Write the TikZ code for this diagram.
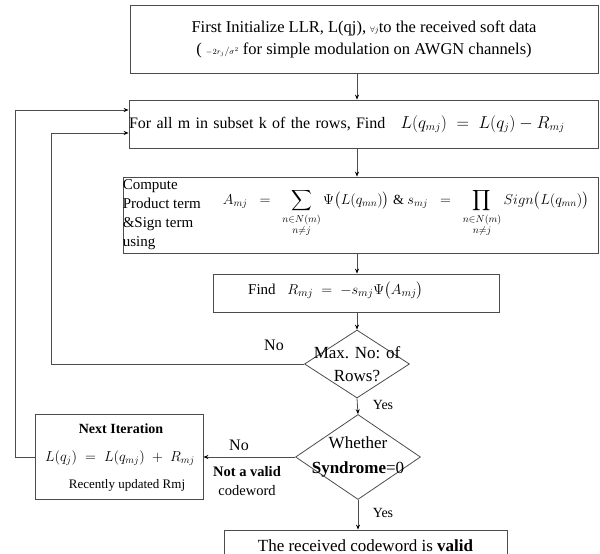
\documentclass[tikz,border=0pt]{standalone}
\usepackage{amsmath}
\usepackage{fontspec}
\setmainfont{Liberation Serif}
\usetikzlibrary{arrows.meta,shapes.geometric}

\begin{document}
\begin{tikzpicture}[x=1pt,y=-1pt,font=\fontsize{16}{22}\selectfont]
\useasboundingbox (0,0) rectangle (600,554);
\begin{scope}[every node/.style={rectangle,draw=black!70,thick,inner sep=0pt}]
    \node[minimum width=468,minimum height=68,align=center,font=\fontsize{16.5}{22}\selectfont] (A) at (364,39)
        {First Initialize LLR, L(qj), {\footnotesize$\forall j$}to the received soft data\\
         ( {\footnotesize$-2r_j\big/\sigma^2$} for simple modulation on AWGN channels)};
    \node[text width=469,minimum height=48,align=left] (B) at (363.5,124)
        {For all m in subset k of the rows, Find \; $L(q_{mj}) \;=\; L(q_j) - R_{mj}$};
    \node[minimum width=475,minimum height=76] (C) at (360.5,215) {};
    \node[minimum width=286,minimum height=38] (D) at (356,293) {};
    \node[minimum width=168,minimum height=85] (G) at (119,456.5) {};
    \node[minimum width=283,minimum height=32,font=\fontsize{17}{22}\selectfont] (H) at (365.5,546) {The received codeword is \textbf{valid}};
\end{scope}
\begin{scope}[every node/.style={diamond,draw=black!70,thick,inner sep=0pt}]
    \node[minimum width=105,minimum height=68] (E) at (357,364) {};
    \node[minimum width=125,minimum height=85] (F) at (358,457) {};
\end{scope}
\begin{scope}[every node/.style={inner sep=0pt}]
    \node[anchor=west,align=left,font=\fontsize{15}{19}\selectfont] (C1) at (C.west)
        {Compute\\Product term\\\&Sign term\\using};
    \node[font=\fontsize{14}{19}\selectfont] (C2) at (406,213) {$\displaystyle A_{mj}\;\;=\;\;\sum_{\substack{n\in N(m)\\ n\neq j}}\Psi\bigl(L(q_{mn})\bigr)$ \&
        $\displaystyle s_{mj}\;\;=\;\;\prod_{\substack{n\in N(m)\\ n\neq j}}Sign\bigl(L(q_{mn})\bigr)$};
    \node[anchor=west,font=\fontsize{15}{19}\selectfont] (D1) at (248,291) {Find \; $R_{mj} \;=\; -s_{mj}\Psi\bigl(A_{mj}\bigr)$};
    \node[align=center,font=\fontsize{17}{23}\selectfont] (E1) at (E) {Max. No: of\\Rows?};
    \node[align=center,font=\fontsize{17}{25}\selectfont] (F1) at (F) {Whether\\\textbf{Syndrome}=0};
    \node[font=\fontsize{14}{16}\selectfont\bfseries] (G1) at (121,429) {Next Iteration};
    \node[font=\fontsize{14}{16}\selectfont] (G2) at (120,458) {$L(q_j) \;=\; L(q_{mj}) \;+\; R_{mj}$};
    \node[font=\fontsize{13}{16}\selectfont] (G3) at (127,485) {Recently updated Rmj};
    \node (N1) at (274,345) {No};
    \node[font=\fontsize{14}{16}\selectfont] (Y1) at (383,405) {Yes};
    \node (N2) at (239,445) {No};
    \node[align=center,font=\fontsize{14.5}{19}\selectfont] (N3) at (247,481) {\textbf{Not a valid}\\codeword};
    \node[font=\fontsize{14}{16}\selectfont] (Y2) at (383,513) {Yes};
\end{scope}
\coordinate (P) at (15,110);
\coordinate (Q) at (51,133);
\begin{scope}[>={Stealth[black,length=5pt,width=4pt]},draw=black!70,thick]
    \draw[->] (A.south -| E) -- (B.north -| E);
    \draw[->] (B.south -| E) -- (C.north -| E);
    \draw[->] (C.south -| E) -- (D.north -| E);
    \draw[->] (D.south -| E) -- (E.north);
    \draw[->] (E.south) -- (F.north);
    \draw[->] (F.south) -- (H.north -| F);
    \draw[->] (F.west) -- (G.east |- F);
    \draw[->] (G.west |- F) -| (P) -- ([yshift=14pt]B.west);
    \draw[->] (E.west) -| (Q) -- ([yshift=-9pt]B.west);
\end{scope}
\end{tikzpicture}
\end{document}
